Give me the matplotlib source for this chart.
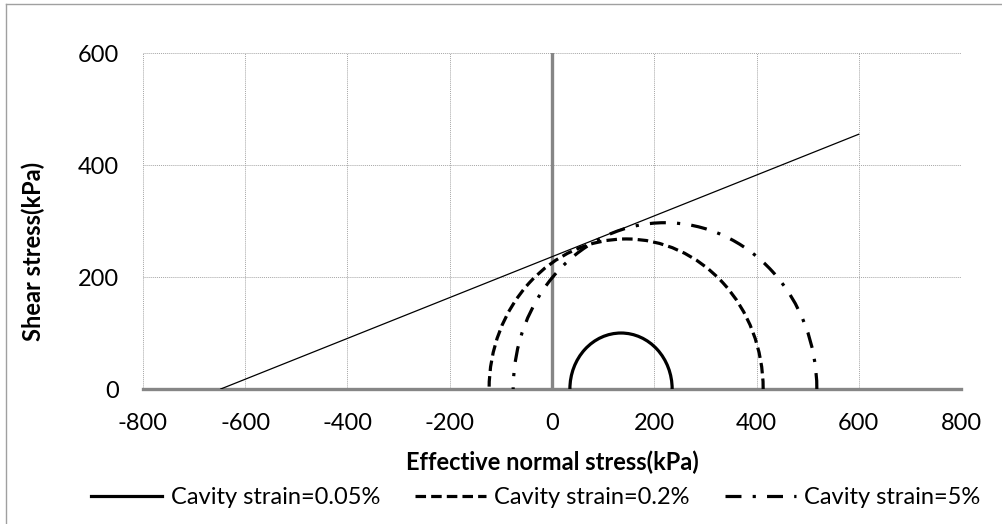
import matplotlib
matplotlib.use("Agg")
import matplotlib.pyplot as plt
from matplotlib.patches import Arc
from matplotlib.lines import Line2D

plt.rcParams['font.family'] = ['Lato', 'DejaVu Sans']
plt.rcParams['axes.unicode_minus'] = False

# Mohr circles: centre and radius (kPa)
labels = ["Cavity strain=0.05%", "Cavity strain=0.2%", "Cavity strain=5%"]
centres = [135, 145, 221]
radii = [100, 268, 297]

# failure envelope end points
env_x = [-648, 600]
env_y = [0, 455]

x_ticks = [-800, -600, -400, -200, 0, 200, 400, 600, 800]
y_ticks = [0, 200, 400, 600]

styles = ['-', (0, (3.3, 1.6)), (0, (5, 3.5, 1, 3.5))]

fig = plt.figure(figsize=(10.02, 5.24), dpi=100)
ax = fig.add_axes([0.1427, 0.2576, 0.8164, 0.6412])

ax.set_xlim(-800, 800)
ax.set_ylim(0, 600)
ax.set_xticks(x_ticks)
ax.set_yticks(y_ticks)
ax.grid(True, color='#a6a6a6', linestyle=(0, (1, 1)), linewidth=0.7)
ax.set_axisbelow(True)
for s in ax.spines.values():
    s.set_visible(False)
ax.tick_params(length=0, labelsize=17, pad=17)

# axis lines through the origin
ax.axhline(0, color='#868686', lw=2.4, clip_on=False, zorder=1.5)
ax.axvline(0, color='#868686', lw=2.4, zorder=1.5)

ax.plot(env_x, env_y, color='black', lw=0.9)

handles = []
for c, r, ls, lab in zip(centres, radii, styles, labels):
    arc = Arc((c, 0), 2 * r, 2 * r, theta1=0, theta2=180, color='black',
              lw=2.3, linestyle=ls, clip_on=False, zorder=3)
    ax.add_patch(arc)
    handles.append(Line2D([], [], color='black', lw=2.3, linestyle=ls, label=lab))

ax.set_xlabel("Effective normal stress(kPa)", fontsize=17, fontweight='bold', labelpad=12)
ax.set_ylabel("Shear stress(kPa)", fontsize=17, fontweight='bold')
ax.yaxis.set_label_coords(-0.12, 0.41)

fig.legend(handles=handles, loc='center', bbox_to_anchor=(0.535, 1 - 498 / 524),
           ncol=3, frameon=False, fontsize=17, handlelength=3.0,
           handletextpad=0.35, columnspacing=1.5)

# chart area border (left and top visible)
fig.add_artist(Line2D([0.006, 0.006], [0, 0.992], color='#a0a0a0', lw=1))
fig.add_artist(Line2D([0.006, 1], [0.992, 0.992], color='#a0a0a0', lw=1))

fig.savefig("out.png", dpi=100)
